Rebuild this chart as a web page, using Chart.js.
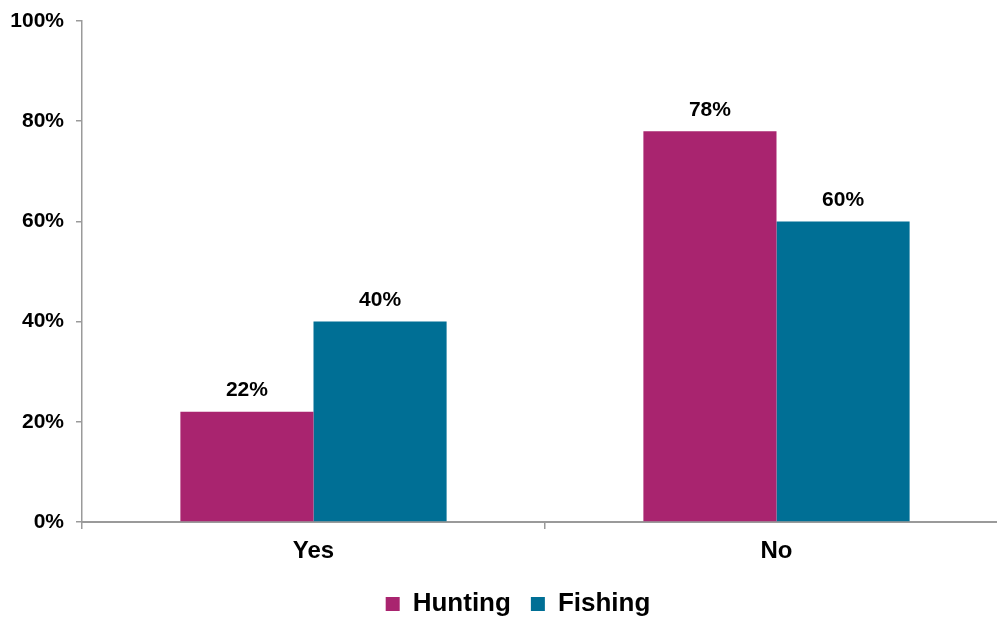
<!DOCTYPE html>
<html>
<head>
<meta charset="utf-8">
<script src="https://cdn.jsdelivr.net/npm/chart.js@4.4.1/dist/chart.umd.min.js"></script>
<style>
  html, body { margin: 0; padding: 0; background: #fff; overflow: hidden; }
  #wrap { width: 1008px; height: 627px; position: relative; }
</style>
</head>
<body>
<div id="wrap"><canvas id="chart"></canvas></div>
<script>
const categories = ['Yes', 'No'];
const hunting = [22, 78];
const fishing = [40, 60];
const yTicks = [0, 20, 40, 60, 80, 100];

const COLORS = {
  hunting: '#A9246F',
  fishing: '#006F95',
  axis: '#9a9a9a',
  text: '#000000',
};

Chart.defaults.font.family = '"Liberation Sans", Arial, sans-serif';
Chart.defaults.font.weight = 'bold';
Chart.defaults.color = COLORS.text;

// draw value labels above each bar
const barLabels = {
  id: 'barLabels',
  afterDatasetsDraw(chart) {
    const ctx = chart.ctx;
    ctx.save();
    ctx.font = 'bold 21px "Liberation Sans", Arial, sans-serif';
    ctx.fillStyle = COLORS.text;
    ctx.textAlign = 'center';
    ctx.textBaseline = 'bottom';
    chart.data.datasets.forEach((ds, i) => {
      chart.getDatasetMeta(i).data.forEach((bar, j) => {
        ctx.fillText(ds.data[j] + '%', bar.x, bar.y - 11);
      });
    });
    ctx.restore();
  },
};

// legend sits a bit right of centre in the original
const legendShift = {
  id: 'legendShift',
  afterLayout(chart) {
    if (!chart.legend) return;
    chart.legend.left += 14;
    chart.legend.right += 14;
  },
};

new Chart(document.getElementById('chart'), {
  type: 'bar',
  data: {
    labels: categories,
    datasets: [
      { label: 'Hunting', data: hunting, backgroundColor: COLORS.hunting },
      { label: 'Fishing', data: fishing, backgroundColor: COLORS.fishing },
    ],
  },
  options: {
    responsive: true,
    maintainAspectRatio: false,
    animation: false,
    layout: { padding: { top: 21, right: 0, left: 0, bottom: 0 } },
    datasets: { bar: { categoryPercentage: 0.575, barPercentage: 1 } },
    plugins: {
      legend: {
        position: 'bottom',
        labels: {
          font: { size: 26, weight: 'bold' },
          boxWidth: 14,
          boxHeight: 14,
          padding: 20,
        },
      },
      tooltip: { enabled: false },
    },
    scales: {
      x: {
        grid: { display: true, drawOnChartArea: false, tickLength: 7, color: COLORS.axis, lineWidth: 1.5 },
        border: { color: COLORS.axis, width: 2 },
        ticks: { font: { size: 24, weight: 'bold' }, padding: 8 },
        afterFit: (scale) => { scale.height = 49; },
      },
      y: {
        min: 0,
        max: 100,
        afterBuildTicks: (scale) => { scale.ticks = yTicks.map(v => ({ value: v })); },
        grid: { display: true, drawOnChartArea: false, tickLength: 6, color: COLORS.axis, lineWidth: 1.5 },
        border: { color: COLORS.axis, width: 1.5 },
        ticks: { font: { size: 21, weight: 'bold' }, padding: 12, callback: (v) => v + '%' },
        afterFit: (scale) => { scale.width = 82; scale.paddingTop = 0; scale.paddingBottom = 0; },
      },
    },
  },
  plugins: [barLabels, legendShift],
});
</script>
</body>
</html>
